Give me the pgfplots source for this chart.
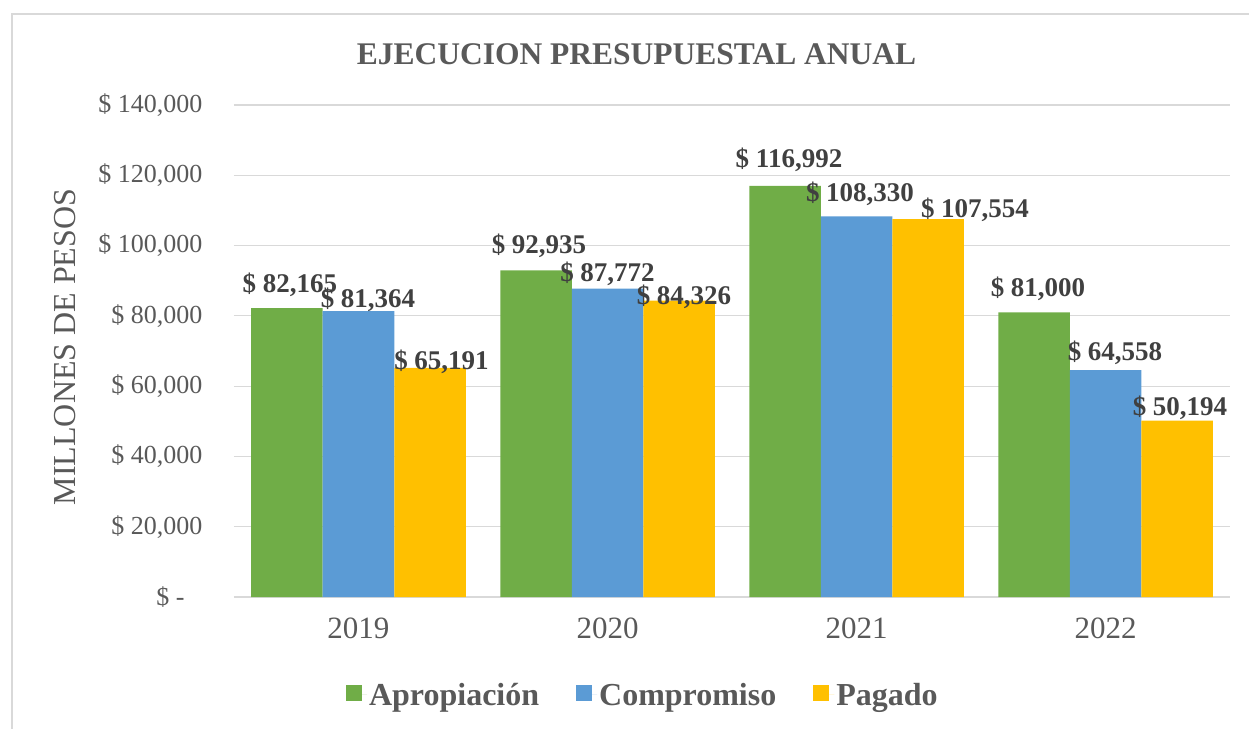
\documentclass[border=0pt]{standalone}
\usepackage{fontspec}
\setmainfont{Liberation Serif}
\usepackage{pgfplots}
\pgfplotsset{compat=1.18}
\definecolor{cgreen}{HTML}{70AD47}
\definecolor{cblue}{HTML}{5B9BD5}
\definecolor{cyellow}{HTML}{FFC000}
\definecolor{cgrid}{HTML}{D9D9D9}
\definecolor{ctext}{HTML}{595959}
\definecolor{clab}{HTML}{404040}
\begin{document}
\begin{tikzpicture}
\useasboundingbox (-234pt,-131pt) rectangle (1015pt,597pt);
\draw[cgrid, line width=2pt] (-222pt,-140pt) -- (-222pt,583pt) -- (1030pt,583pt);
\begin{axis}[
  at={(0pt,0pt)}, anchor=south west,
  scale only axis, width=996pt, height=492pt,
  ybar=0pt, bar width=71.5pt,
  xmin=-0.5, xmax=3.5, ymin=0, ymax=140000,
  enlargelimits=false,
  scaled y ticks=false,
  xtick={0,1,2,3}, xticklabels={2019,2020,2021,2022},
  ytick={0,20000,40000,60000,80000,100000,120000,140000},
  yticklabels={\$ -\rule{18pt}{0pt},\$ 20{,}000,\$ 40{,}000,\$ 60{,}000,\$ 80{,}000,\$ 100{,}000,\$ 120{,}000,\$ 140{,}000},
  major tick length=0pt,
  axis lines*=left,
  y axis line style={draw=none},
  x axis line style={draw=cgrid, line width=1.5pt},
  ymajorgrids, grid style={cgrid, line width=1.2pt},
  ticklabel style={text=ctext},
  yticklabel style={font=\fontsize{26}{31}\selectfont, xshift=-28pt},
  xticklabel style={font=\fontsize{31}{37}\selectfont, yshift=-17pt},
  /pgf/number format/.cd, fixed, precision=0, 1000 sep={,}, assume math mode=true,
  /pgfplots/.cd,
  nodes near coords={\$ \pgfmathprintnumber{\pgfplotspointmeta}},
  visualization depends on={value \thisrow{dx}\as\dx},
  visualization depends on={value \thisrow{dy}\as\dy},
  every node near coord/.append style={anchor=base, xshift=\dx pt, yshift=\dy pt, font=\fontsize{27}{32}\selectfont\bfseries, text=clab, inner sep=0pt},
  legend style={at={(axis description cs:0.4105,-0.199)}, anchor=center, draw=none, fill=none, legend columns=3, font=\fontsize{32}{38}\selectfont\bfseries, text=ctext, /tikz/every even column/.append style={column sep=35pt}},
  legend image code/.code={\fill[#1] (0pt,-6.5pt) rectangle (16pt,9.5pt); \path (0pt,0pt) -- (21pt,0pt);},
  clip=false,
]
\addplot[fill=cgreen, draw=none] table[x=x,y=y] {
x y dx dy
0 82165 3 16
1 92935 3 17
2 116992 4 18
3 81000 4 16
};
\addplot[fill=cblue, draw=none] table[x=x,y=y] {
x y dx dy
0 81364 9.5 4
1 87772 0 7.5
2 108330 3.5 15
3 64558 9.5 10
};
\addplot[fill=cyellow, draw=none] table[x=x,y=y] {
x y dx dy
0 65191 11.5 -2
1 84326 5 -4
2 107554 47 2
3 50194 3 5.6
};
\legend{Apropiación,Compromiso,Pagado}
\end{axis}
\node[font=\fontsize{31.5}{38}\selectfont\bfseries, text=ctext] at (402.5pt,543pt) {EJECUCION PRESUPUESTAL ANUAL};
\node[font=\fontsize{32}{38}\selectfont, text=ctext, rotate=90] at (-169pt,250pt) {MILLONES DE PESOS};
\end{tikzpicture}
\end{document}
